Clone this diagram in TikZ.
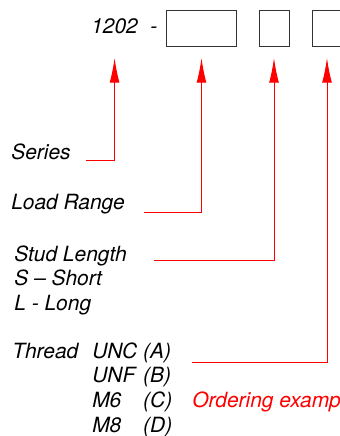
\documentclass[tikz,border=0pt]{standalone}
\usepackage{fontspec}
\setmainfont{TeX Gyre Heros}
\usetikzlibrary{arrows.meta,positioning,calc}
\tikzstyle{arr}  =[-{Latex[length=17.5pt,width=7pt]}, red, line width=0.7pt]
\tikzstyle{slot} =[draw=black!80, line width=0.7pt, minimum height=0.9cm]
\tikzstyle{lbl}  =[anchor=base west]

\begin{document}
\begin{tikzpicture}[x=0.025cm, y=-0.025cm,
  every node/.style={font=\fontsize{14.9}{17.6}\selectfont\itshape, inner sep=0pt}]

  \clip (0,0) rectangle (340,436);

  % ── part number ────────────────────────────────────────────────────────────
  \node[lbl] (num)  at (91,33)  {1202};
  \node[lbl] (dash) at (150,33) {-};
  \node[slot,minimum width=1.725cm] (range)  at (201.5,28) {};
  \node[slot,minimum width=0.75cm]  (stud)   at (274,28)   {};
  \node[slot,minimum width=0.75cm]  (thread) at (327,28)   {};
  \coordinate (tiprow) at (0,58);

  % ── labels ─────────────────────────────────────────────────────────────────
  \node[lbl] (series) at (11,159) {Series};
  \node[lbl] (load)   at (11,209) {Load Range};
  \node[lbl] (studlen) at (14,261)
    {\begin{tabular}[t]{@{}l@{}}Stud Length\\S -- Short\\L - Long\end{tabular}};
  \node[lbl] (threadlbl) at (12,358) {Thread};
  \node[lbl] (opts) at (92,358)
    {\begin{tabular}[t]{@{}l@{\ }l@{}}UNC & (A)\\UNF & (B)\\M6 & (C)\\M8 & (D)\end{tabular}};
  \node[lbl,text=red] (order) at (192,407) {Ordering example};

  % ── leaders ────────────────────────────────────────────────────────────────
  \coordinate (cSeries) at (86,160.5);
  \coordinate (cLoad)   at (144,212);
  \coordinate (cStud)   at (154,260);
  \coordinate (cThread) at (192,362);
  \draw[arr] (cSeries) -| (num |- tiprow);
  \draw[arr] (cLoad)   -| (range |- tiprow);
  \draw[arr] (cStud)   -| (stud |- tiprow);
  \draw[arr] (cThread) -| (thread |- tiprow);

\end{tikzpicture}
\end{document}
